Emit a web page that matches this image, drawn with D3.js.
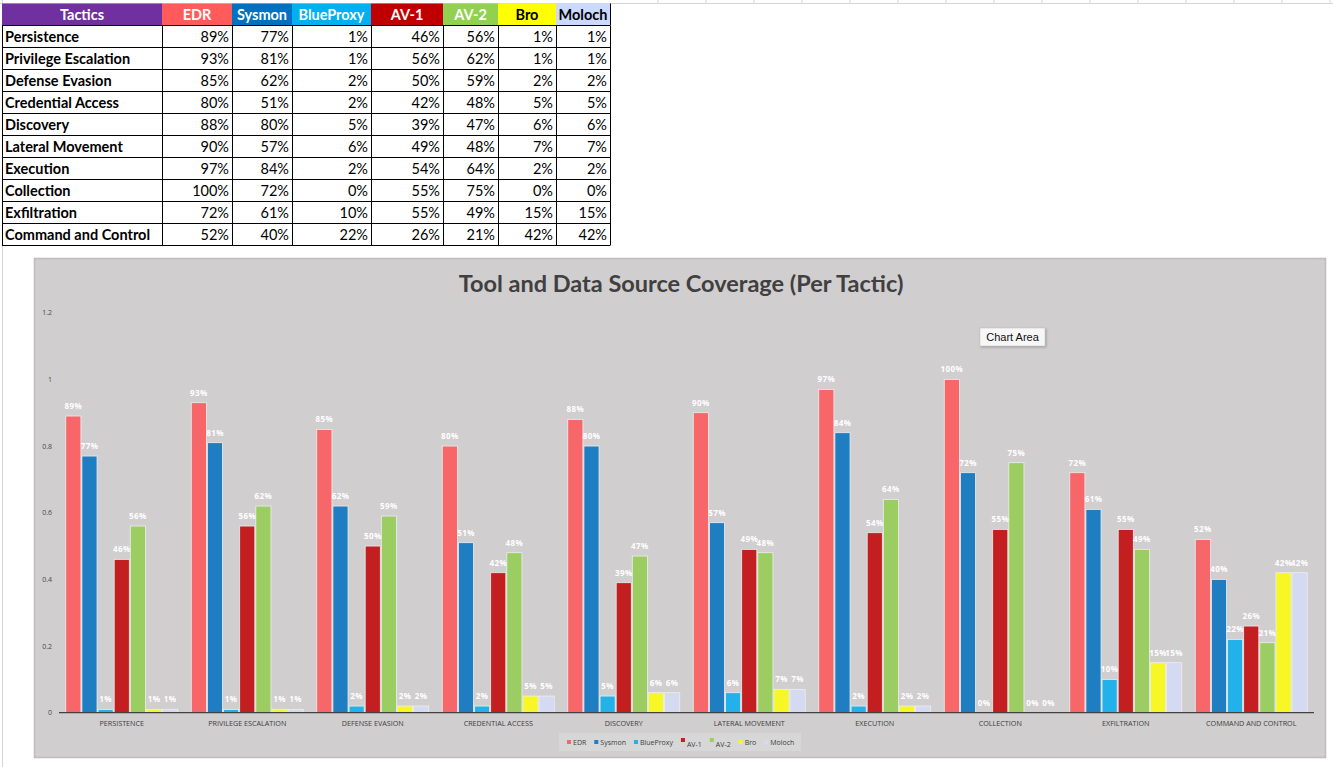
<!DOCTYPE html>
<html>
<head>
<meta charset="utf-8">
<script src="https://cdn.jsdelivr.net/npm/d3@7"></script>
<style>
  body { margin: 0; background: #fff; }
  svg { display: block; }
</style>
</head>
<body>
<div id="chart" style="width:1333px;height:767px"></div>
<script>
// data
const tactics = ["Persistence", "Privilege Escalation", "Defense Evasion", "Credential Access",
  "Discovery", "Lateral Movement", "Execution", "Collection", "Exfiltration", "Command and Control"];
const tools = ["EDR", "Sysmon", "BlueProxy", "AV-1", "AV-2", "Bro", "Moloch"];
const edr = [89, 93, 85, 80, 88, 90, 97, 100, 72, 52];
const sysmon = [77, 81, 62, 51, 80, 57, 84, 72, 61, 40];
const blueProxy = [1, 1, 2, 2, 5, 6, 2, 0, 10, 22];
const av1 = [46, 56, 50, 42, 39, 49, 54, 55, 55, 26];
const av2 = [56, 62, 59, 48, 47, 48, 64, 75, 49, 21];
const bro = [1, 1, 2, 5, 6, 7, 2, 0, 15, 42];
const moloch = [1, 1, 2, 5, 6, 7, 2, 0, 15, 42];
const yTicks = [0, 0.2, 0.4, 0.6, 0.8, 1, 1.2];
const chartTitle = "Tool and Data Source Coverage (Per Tactic)";

// colours
const barColors = ["#f76668", "#1f7dc2", "#22b2e9", "#c31f21", "#9ccd62", "#f7f726", "#d3daf2"];
const headColors = ["#7030a0", "#ff5b5b", "#0070c0", "#00b0f0", "#c00000", "#92d050", "#ffff00", "#ccd9ff"];
const headText = ["#fff", "#fff", "#fff", "#fff", "#fff", "#fff", "#000", "#000"];

const seriesValues = [edr, sysmon, blueProxy, av1, av2, bro, moloch];
const rows = tactics.map((t, i) => ({ tactic: t, vals: seriesValues.map(s => s[i]) }));

const width = 1333, height = 767;
const svg = d3.select("#chart").append("svg")
  .attr("width", width).attr("height", height)
  .attr("viewBox", [0, 0, width, height]);

// spreadsheet grid lines behind everything
svg.append("line").attr("x1", 0).attr("x2", width).attr("y1", 3.5).attr("y2", 3.5)
  .attr("stroke", "#d4d4d4");
svg.append("line").attr("x1", 2.5).attr("x2", 2.5).attr("y1", 0).attr("y2", height)
  .attr("stroke", "#d4d4d4");
svg.append("g").selectAll("line")
  .data(d3.range(658, 1333, 48))
  .join("line")
  .attr("x1", d => d).attr("x2", d => d).attr("y1", 0).attr("y2", 3.5)
  .attr("stroke", "#d4d4d4");

// ---------- table ----------
const colEdges = [2, 162, 232, 292, 371, 443, 498, 556, 610];
const rowY = d3.scaleBand().domain(d3.range(tactics.length + 1)).range([3.5, 245.5]);
const table = svg.append("g").attr("font-family", "Lato, 'Open Sans', sans-serif");

const header = table.append("g");
header.selectAll("rect")
  .data(["Tactics", ...tools])
  .join("rect")
  .attr("x", (d, i) => colEdges[i]).attr("y", rowY(0))
  .attr("width", (d, i) => colEdges[i + 1] - colEdges[i]).attr("height", rowY.bandwidth())
  .attr("fill", (d, i) => headColors[i]);
header.selectAll("text")
  .data(["Tactics", ...tools])
  .join("text")
  .attr("x", (d, i) => (colEdges[i] + colEdges[i + 1]) / 2)
  .attr("y", rowY(0) + rowY.bandwidth() / 2 + 5)
  .attr("text-anchor", "middle")
  .attr("font-size", 14.5).attr("font-weight", 700)
  .attr("fill", (d, i) => headText[i])
  .text(d => d);

const body = table.append("g").selectAll("g")
  .data(rows)
  .join("g")
  .attr("transform", (d, i) => `translate(0,${rowY(i + 1)})`);
body.append("text")
  .attr("x", colEdges[0] + 3).attr("y", rowY.bandwidth() / 2 + 5.5)
  .attr("font-size", 14.5).attr("font-weight", 700).attr("fill", "#000")
  .text(d => d.tactic);
body.selectAll("text.v")
  .data(d => d.vals)
  .join("text").attr("class", "v")
  .attr("x", (d, i) => colEdges[i + 2] - 3).attr("y", rowY.bandwidth() / 2 + 5.5)
  .attr("text-anchor", "end").attr("font-size", 14.5).attr("fill", "#000")
  .text(d => d + "%");

// table borders
const gridG = table.append("g").attr("stroke", "#000").attr("stroke-width", 1);
gridG.selectAll("line.h")
  .data(d3.range(1, tactics.length + 2))
  .join("line").attr("class", "h")
  .attr("x1", colEdges[0]).attr("x2", colEdges[colEdges.length - 1])
  .attr("y1", d => d > tactics.length ? 245.5 : rowY(d)).attr("y2", d => d > tactics.length ? 245.5 : rowY(d));
gridG.selectAll("line.v")
  .data(colEdges)
  .join("line").attr("class", "v")
  .attr("x1", d => d + 0.5).attr("x2", d => d + 0.5)
  .attr("y1", rowY(1)).attr("y2", 245.5);
gridG.append("line").attr("x1", colEdges[8] + 0.5).attr("x2", colEdges[8] + 0.5)
  .attr("y1", 3.5).attr("y2", rowY(1));

// ---------- chart ----------
const area = { x: 34.5, y: 258.5, w: 1291, h: 499 };
const margin = { left: 59, right: 1314, top: 312.7, bottom: 712.7 };

svg.append("rect")
  .attr("x", area.x).attr("y", area.y).attr("width", area.w).attr("height", area.h)
  .attr("fill", "#d0cecf").attr("stroke", "#bdbdbd").attr("stroke-width", 1.5);

svg.append("text")
  .attr("x", 681).attr("y", 292)
  .attr("text-anchor", "middle")
  .attr("font-family", "Lato, 'Open Sans', sans-serif")
  .attr("font-size", 23.5).attr("font-weight", 700).attr("fill", "#404040")
  .text(chartTitle);

const x0 = d3.scaleBand().domain(tactics).range([margin.left, margin.right])
  .paddingInner(0.1).paddingOuter(0.05);
const x1 = d3.scaleBand().domain(tools).range([0, x0.bandwidth()]);
const y = d3.scaleLinear().domain([0, 1.2]).range([margin.bottom, margin.top]);

// y axis labels only
const yAxis = svg.append("g")
  .attr("transform", `translate(${52},0)`)
  .call(d3.axisLeft(y).tickValues(yTicks).tickSize(0).tickPadding(0).tickFormat(d3.format("")));
yAxis.select(".domain").remove();
yAxis.selectAll("text")
  .attr("font-family", "'Open Sans', sans-serif").attr("font-size", 7).attr("fill", "#4a4a4a");

const groups = svg.append("g").selectAll("g")
  .data(rows)
  .join("g")
  .attr("transform", d => `translate(${x0(d.tactic)},0)`);

groups.selectAll("rect")
  .data(d => d.vals.map((v, i) => ({ tool: tools[i], v: v / 100, i })))
  .join("rect")
  .attr("x", d => x1(d.tool) + 0.5)
  .attr("y", d => y(d.v))
  .attr("width", x1.bandwidth() - 1)
  .attr("height", d => y(0) - y(d.v))
  .attr("fill", d => barColors[d.i])
  .attr("stroke", "#eeeeee").attr("stroke-width", 0.8);

groups.selectAll("text")
  .data(d => d.vals.map((v, i) => ({ tool: tools[i], v })))
  .join("text")
  .attr("x", d => x1(d.tool) + x1.bandwidth() / 2)
  .attr("y", d => y(d.v / 100) - 7)
  .attr("text-anchor", "middle")
  .attr("font-family", "'Open Sans', sans-serif")
  .attr("font-size", 8).attr("font-weight", 700).attr("letter-spacing", 0.4).attr("fill", "#fff")
  .text(d => d.v + "%");

// category axis
const xAxis = svg.append("g")
  .attr("transform", `translate(0,${margin.bottom})`)
  .call(d3.axisBottom(x0).tickSize(0).tickPadding(8).tickFormat(d => d.toUpperCase()));
xAxis.select(".domain").attr("stroke", "#404040").attr("stroke-width", 1.3)
  .attr("d", `M${margin.left},0H${margin.right}`);
xAxis.selectAll("text")
  .attr("font-family", "'Open Sans', sans-serif").attr("font-size", 7.2).attr("fill", "#404040");

// legend
const legend = svg.append("g");
legend.append("rect")
  .attr("x", 559).attr("y", 733).attr("width", 242).attr("height", 18)
  .attr("fill", "#d8d7d8");
let lx = 567;
tools.forEach((t, i) => {
  const low = t.startsWith("AV") ? 2 : 0;
  legend.append("rect")
    .attr("x", lx).attr("y", 740 - low).attr("width", 4).attr("height", 4)
    .attr("fill", barColors[i]);
  const txt = legend.append("text")
    .attr("x", lx + 6).attr("y", 745 + low)
    .attr("font-family", "'Open Sans', sans-serif").attr("font-size", 7).attr("fill", "#404040")
    .text(t);
  lx += 6 + txt.node().getComputedTextLength() + 8;
});

// the "Chart Area" hover label
const tip = svg.append("g");
tip.append("rect")
  .attr("x", 980).attr("y", 328).attr("width", 65).attr("height", 18)
  .attr("fill", "#f7f7f7").attr("stroke", "#c8c8c8").attr("stroke-width", 0.6)
  .style("filter", "drop-shadow(1px 1px 1px rgba(0,0,0,0.25))");
tip.append("text")
  .attr("x", 1012.5).attr("y", 341).attr("text-anchor", "middle")
  .attr("font-family", "'Liberation Sans', Arial, sans-serif").attr("font-size", 11).attr("fill", "#111")
  .text("Chart Area");
</script>
</body>
</html>
